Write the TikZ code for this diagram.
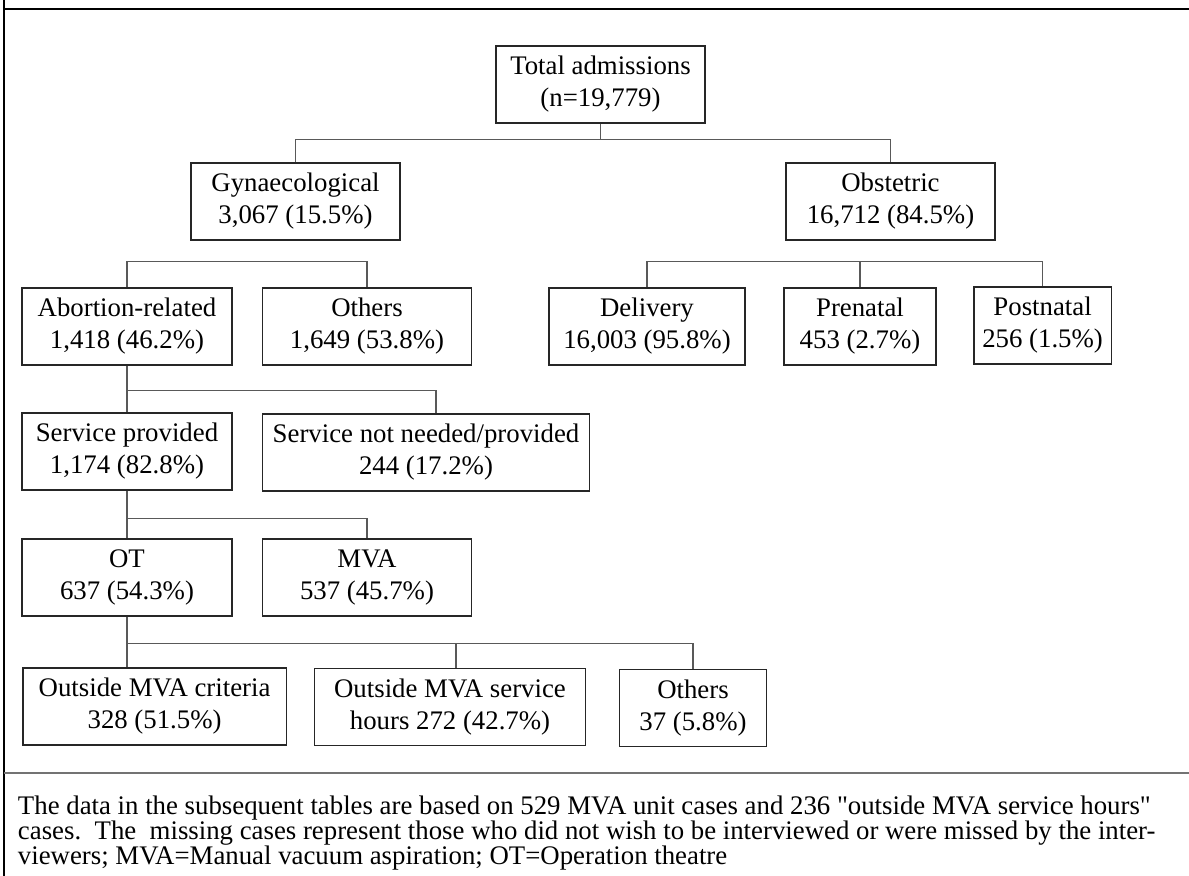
\documentclass[tikz,border=0pt]{standalone}
\usepackage{fontspec}
\setmainfont{Liberation Serif}
\newfontfamily\notefont{Liberation Serif}
\tikzset{
  box/.style={draw=black!85,line width=0.7pt,align=center,inner sep=0pt,
    minimum height=38.5pt,font=\fontsize{13.4}{16}\selectfont},
  link/.style={draw=black!65,line width=0.6pt}
}
\begin{document}
\begin{tikzpicture}[x=0.5pt,y=-0.5pt]
\useasboundingbox (0,0) rectangle (1189,876);
\path[draw,line width=0.8pt](4,0)--(4,876);
\path[draw,line width=0.8pt](4,9)--(1189,9);
\path[draw,black!55,line width=0.8pt](4,773)--(1189,773);
\node[box,minimum width=104.5pt] (tot) at (600.5,84.5) {Total admissions\\(n=19,779)};
\node[box,minimum width=104.5pt] (gyn) at (295.5,201.5) {Gynaecological\\3,067 (15.5\%)};
\node[box,minimum width=104.5pt] (obs) at (890.5,201.5) {Obstetric\\16,712 (84.5\%)};
\node[box,minimum width=105pt] (abo) at (127,326.5) {Abortion-related\\1,418 (46.2\%)};
\node[box,minimum width=104.5pt] (oth) at (367,326.5) {Others\\1,649 (53.8\%)};
\node[box,minimum width=98pt] (del) at (647,326.5) {Delivery\\16,003 (95.8\%)};
\node[box,minimum width=76pt] (pre) at (860,326.5) {Prenatal\\453 (2.7\%)};
\node[box,minimum width=68.7pt] (pos) at (1042.6,325.5) {Postnatal\\256 (1.5\%)};
\node[box,minimum width=105pt] (srv) at (127,451.5) {Service provided\\1,174 (82.8\%)};
\node[box,minimum width=163.5pt] (snn) at (426,452.5) {Service not needed/provided\\244 (17.2\%)};
\node[box,minimum width=105pt] (ot) at (127,577.5) {OT\\637 (54.3\%)};
\node[box,minimum width=104.5pt] (mva) at (367,577.5) {MVA\\537 (45.7\%)};
\node[box,minimum width=131.6pt] (omc) at (154.6,706.5) {Outside MVA criteria\\328 (51.5\%)};
\node[box,minimum width=135.5pt] (omh) at (450,707) {Outside MVA service\\hours 272 (42.7\%)};
\node[box,minimum width=73.5pt] (oth2) at (693,708) {Others\\37 (5.8\%)};
\path[link](tot.south)--++(0,-8pt)coordinate(j1);
\path[link](gyn.north)|-(j1)-|(obs.north);
\path[link](abo.north)--++(0,13pt)-|(oth.north);
\path[link](del.north)--++(0,13pt)-|(pos.north);
\path[link](pre.north)--++(0,13pt);
\path[link](abo.south)--(srv.north);
\path[link]([yshift=-12.5pt]abo.south)-|([xshift=5pt]snn.north);
\path[link](srv.south)--(ot.north);
\path[link]([yshift=-14pt]srv.south)-|(mva.north);
\path[link](ot.south)--++(0,-13.5pt)coordinate(j5)--(ot.south|-omc.north);
\path[link](j5)-|(oth2.north);
\path[link]([xshift=3pt]omh.north)|-(j5);
\node[anchor=north west,align=left,inner sep=0pt,font=\notefont\fontsize{13.4}{12.5}\selectfont]%
(note) at (17.6,796) {The data in the subsequent tables are based on 529 MVA unit cases and 236 "outside MVA service hours"\\
cases.\ \ The\ \ missing cases represent those who did not wish to be interviewed or were missed by the inter-\\
viewers; MVA=Manual vacuum aspiration; OT=Operation theatre};
\end{tikzpicture}
\end{document}
